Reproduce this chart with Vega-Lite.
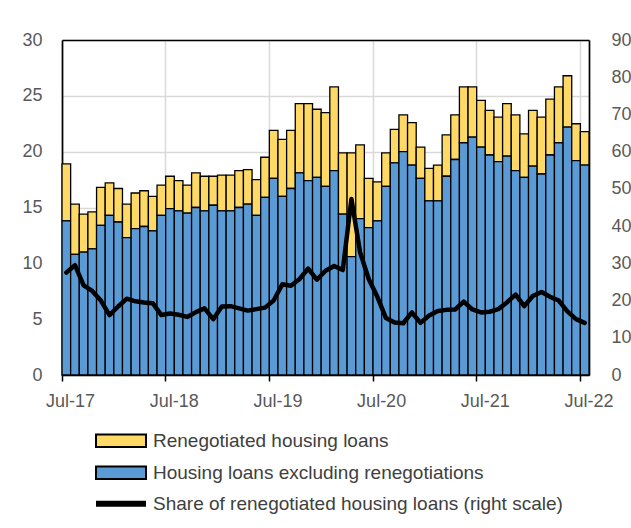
{
  "$schema": "https://vega.github.io/schema/vega-lite/v6.json",
  "width": 527,
  "height": 335,
  "autosize": {"type": "none"},
  "padding": {"left": 62, "top": 40, "right": 42, "bottom": 153},
  "config": {
    "view": {"stroke": null},
    "font": "Liberation Sans",
    "axis": {"labelFont": "Liberation Sans", "labelColor": "#595959", "gridColor": "#D9D9D9", "gridWidth": 1.5, "title": null, "domainColor": "black", "domainWidth": 1.7, "zindex": 1},
    "legend": {"labelFont": "Liberation Sans"}
  },
  "data": {"values": [
    {"m": "Jul-17", "Housing loans excluding renegotiations": 13.8, "Renegotiated housing loans": 5.1, "share": 27.5},
    {"m": "Aug-17", "Housing loans excluding renegotiations": 10.8, "Renegotiated housing loans": 4.5, "share": 29.5},
    {"m": "Sep-17", "Housing loans excluding renegotiations": 11.0, "Renegotiated housing loans": 3.4, "share": 24.1},
    {"m": "Oct-17", "Housing loans excluding renegotiations": 11.3, "Renegotiated housing loans": 3.3, "share": 22.6},
    {"m": "Nov-17", "Housing loans excluding renegotiations": 13.4, "Renegotiated housing loans": 3.4, "share": 20.0},
    {"m": "Dec-17", "Housing loans excluding renegotiations": 14.3, "Renegotiated housing loans": 2.9, "share": 16.1},
    {"m": "Jan-18", "Housing loans excluding renegotiations": 13.7, "Renegotiated housing loans": 3.0, "share": 18.4},
    {"m": "Feb-18", "Housing loans excluding renegotiations": 12.3, "Renegotiated housing loans": 3.0, "share": 20.5},
    {"m": "Mar-18", "Housing loans excluding renegotiations": 13.1, "Renegotiated housing loans": 3.2, "share": 19.8},
    {"m": "Apr-18", "Housing loans excluding renegotiations": 13.3, "Renegotiated housing loans": 3.2, "share": 19.5},
    {"m": "May-18", "Housing loans excluding renegotiations": 12.9, "Renegotiated housing loans": 3.1, "share": 19.3},
    {"m": "Jun-18", "Housing loans excluding renegotiations": 14.3, "Renegotiated housing loans": 2.7, "share": 16.1},
    {"m": "Jul-18", "Housing loans excluding renegotiations": 14.9, "Renegotiated housing loans": 2.9, "share": 16.5},
    {"m": "Aug-18", "Housing loans excluding renegotiations": 14.7, "Renegotiated housing loans": 2.7, "share": 16.2},
    {"m": "Sep-18", "Housing loans excluding renegotiations": 14.5, "Renegotiated housing loans": 2.5, "share": 15.6},
    {"m": "Oct-18", "Housing loans excluding renegotiations": 15.0, "Renegotiated housing loans": 3.1, "share": 16.9},
    {"m": "Nov-18", "Housing loans excluding renegotiations": 14.7, "Renegotiated housing loans": 3.1, "share": 17.9},
    {"m": "Dec-18", "Housing loans excluding renegotiations": 15.2, "Renegotiated housing loans": 2.6, "share": 15.0},
    {"m": "Jan-19", "Housing loans excluding renegotiations": 14.7, "Renegotiated housing loans": 3.2, "share": 18.4},
    {"m": "Feb-19", "Housing loans excluding renegotiations": 14.7, "Renegotiated housing loans": 3.2, "share": 18.5},
    {"m": "Mar-19", "Housing loans excluding renegotiations": 15.0, "Renegotiated housing loans": 3.3, "share": 17.9},
    {"m": "Apr-19", "Housing loans excluding renegotiations": 15.3, "Renegotiated housing loans": 3.1, "share": 17.3},
    {"m": "May-19", "Housing loans excluding renegotiations": 14.3, "Renegotiated housing loans": 3.2, "share": 17.7},
    {"m": "Jun-19", "Housing loans excluding renegotiations": 15.9, "Renegotiated housing loans": 3.6, "share": 18.1},
    {"m": "Jul-19", "Housing loans excluding renegotiations": 17.6, "Renegotiated housing loans": 4.3, "share": 20.0},
    {"m": "Aug-19", "Housing loans excluding renegotiations": 16.0, "Renegotiated housing loans": 5.1, "share": 24.4},
    {"m": "Sep-19", "Housing loans excluding renegotiations": 16.7, "Renegotiated housing loans": 5.2, "share": 24.0},
    {"m": "Oct-19", "Housing loans excluding renegotiations": 18.1, "Renegotiated housing loans": 6.2, "share": 25.8},
    {"m": "Nov-19", "Housing loans excluding renegotiations": 17.4, "Renegotiated housing loans": 6.9, "share": 28.6},
    {"m": "Dec-19", "Housing loans excluding renegotiations": 17.7, "Renegotiated housing loans": 6.1, "share": 25.6},
    {"m": "Jan-20", "Housing loans excluding renegotiations": 16.9, "Renegotiated housing loans": 6.6, "share": 28.0},
    {"m": "Feb-20", "Housing loans excluding renegotiations": 18.3, "Renegotiated housing loans": 7.5, "share": 29.3},
    {"m": "Mar-20", "Housing loans excluding renegotiations": 14.4, "Renegotiated housing loans": 5.5, "share": 28.2},
    {"m": "Apr-20", "Housing loans excluding renegotiations": 10.6, "Renegotiated housing loans": 9.3, "share": 47.3},
    {"m": "May-20", "Housing loans excluding renegotiations": 14.0, "Renegotiated housing loans": 6.6, "share": 33.0},
    {"m": "Jun-20", "Housing loans excluding renegotiations": 13.2, "Renegotiated housing loans": 4.4, "share": 25.8},
    {"m": "Jul-20", "Housing loans excluding renegotiations": 13.8, "Renegotiated housing loans": 3.5, "share": 21.0},
    {"m": "Aug-20", "Housing loans excluding renegotiations": 16.9, "Renegotiated housing loans": 3.0, "share": 15.3},
    {"m": "Sep-20", "Housing loans excluding renegotiations": 19.0, "Renegotiated housing loans": 3.0, "share": 14.1},
    {"m": "Oct-20", "Housing loans excluding renegotiations": 20.0, "Renegotiated housing loans": 3.3, "share": 13.9},
    {"m": "Nov-20", "Housing loans excluding renegotiations": 18.8, "Renegotiated housing loans": 3.8, "share": 16.8},
    {"m": "Dec-20", "Housing loans excluding renegotiations": 17.6, "Renegotiated housing loans": 2.8, "share": 14.0},
    {"m": "Jan-21", "Housing loans excluding renegotiations": 15.6, "Renegotiated housing loans": 2.9, "share": 16.0},
    {"m": "Feb-21", "Housing loans excluding renegotiations": 15.6, "Renegotiated housing loans": 3.2, "share": 17.2},
    {"m": "Mar-21", "Housing loans excluding renegotiations": 17.8, "Renegotiated housing loans": 3.7, "share": 17.5},
    {"m": "Apr-21", "Housing loans excluding renegotiations": 19.3, "Renegotiated housing loans": 4.0, "share": 17.6},
    {"m": "May-21", "Housing loans excluding renegotiations": 20.8, "Renegotiated housing loans": 5.0, "share": 19.7},
    {"m": "Jun-21", "Housing loans excluding renegotiations": 21.3, "Renegotiated housing loans": 4.5, "share": 17.6},
    {"m": "Jul-21", "Housing loans excluding renegotiations": 20.4, "Renegotiated housing loans": 4.2, "share": 16.8},
    {"m": "Aug-21", "Housing loans excluding renegotiations": 19.7, "Renegotiated housing loans": 4.0, "share": 17.0},
    {"m": "Sep-21", "Housing loans excluding renegotiations": 19.1, "Renegotiated housing loans": 4.0, "share": 17.7},
    {"m": "Oct-21", "Housing loans excluding renegotiations": 19.6, "Renegotiated housing loans": 4.7, "share": 19.5},
    {"m": "Nov-21", "Housing loans excluding renegotiations": 18.3, "Renegotiated housing loans": 5.0, "share": 21.6},
    {"m": "Dec-21", "Housing loans excluding renegotiations": 17.7, "Renegotiated housing loans": 3.9, "share": 18.5},
    {"m": "Jan-22", "Housing loans excluding renegotiations": 18.7, "Renegotiated housing loans": 5.0, "share": 21.2},
    {"m": "Feb-22", "Housing loans excluding renegotiations": 18.0, "Renegotiated housing loans": 5.1, "share": 22.3},
    {"m": "Mar-22", "Housing loans excluding renegotiations": 19.7, "Renegotiated housing loans": 5.0, "share": 21.0},
    {"m": "Apr-22", "Housing loans excluding renegotiations": 20.8, "Renegotiated housing loans": 5.0, "share": 20.0},
    {"m": "May-22", "Housing loans excluding renegotiations": 22.2, "Renegotiated housing loans": 4.6, "share": 17.1},
    {"m": "Jun-22", "Housing loans excluding renegotiations": 19.2, "Renegotiated housing loans": 3.3, "share": 15.0},
    {"m": "Jul-22", "Housing loans excluding renegotiations": 18.8, "Renegotiated housing loans": 3.0, "share": 14.0}
  ]},
  "layer": [
    {
      "transform": [{"fold": ["Renegotiated housing loans", "Housing loans excluding renegotiations"], "as": ["series", "value"]}],
      "mark": {"type": "bar", "stroke": "black", "strokeWidth": 1.3},
      "encoding": {
        "x": {"field": "m", "type": "ordinal", "sort": null, "scale": {"paddingInner": 0, "paddingOuter": 0},
          "axis": {"orient": "bottom", "values": ["Jul-17", "Jul-18", "Jul-19", "Jul-20", "Jul-21", "Jul-22"], "bandPosition": 0, "labelAngle": 0, "grid": true, "ticks": true, "tickColor": "black", "tickSize": 6, "tickWidth": 1.5, "labelPadding": 11, "labelFontSize": 18, "labelAlign": "center", "labelOffset": 4.3, "domain": true}},
        "y": {"field": "value", "type": "quantitative", "stack": "zero", "scale": {"domain": [0, 30]},
          "axis": {"orient": "left", "values": [0, 5, 10, 15, 20, 25, 30], "grid": true, "ticks": false, "tickSize": 0, "labelPadding": 20, "labelFontSize": 18, "domain": true}},
        "fill": {"field": "series", "type": "nominal",
          "scale": {"domain": ["Renegotiated housing loans", "Housing loans excluding renegotiations"], "range": ["#FFD966", "#5B9BD5"]},
          "legend": {"orient": "none", "legendX": 33, "legendY": 385, "title": null, "padding": 0,
            "symbolType": "M-1,-0.252H1V0.252H-1Z", "symbolSize": 2500, "symbolStrokeColor": "black", "symbolStrokeWidth": 2, "symbolOpacity": 1,
            "labelFontSize": 19, "labelColor": "#404040", "labelLimit": 600, "clipHeight": 31.5, "rowPadding": 0, "labelOffset": 6}},
        "order": {"field": "series", "sort": "ascending"}
      }
    },
    {
      "mark": {"type": "line", "strokeWidth": 4.5, "strokeJoin": "round", "strokeCap": "round"},
      "encoding": {
        "x": {"field": "m", "type": "ordinal", "sort": null,
          "axis": {"orient": "top", "labels": false, "ticks": false, "grid": false, "domain": true}},
        "y": {"field": "share", "type": "quantitative", "scale": {"domain": [0, 90]},
          "axis": {"orient": "right", "values": [0, 10, 20, 30, 40, 50, 60, 70, 80, 90], "grid": false, "ticks": false, "tickSize": 0, "labelPadding": 22, "labelFontSize": 18, "domain": true}},
        "stroke": {"datum": "Share of renegotiated housing loans (right scale)", "type": "nominal", "scale": {"range": ["black"]},
          "legend": {"orient": "none", "legendX": 31, "legendY": 448, "title": null, "padding": 0, "clipHeight": 31.5,
            "symbolType": "stroke", "symbolSize": 2500, "symbolStrokeWidth": 6, "labelFontSize": 19, "labelColor": "#404040", "labelLimit": 600, "labelOffset": 4}}
      }
    }
  ],
  "resolve": {"scale": {"y": "independent"}, "axis": {"x": "independent", "y": "independent"}}
}
